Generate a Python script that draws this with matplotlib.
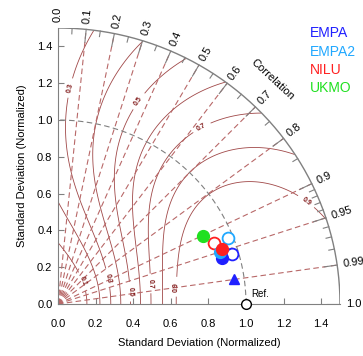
import matplotlib
matplotlib.use('Agg')
import matplotlib.pyplot as plt
import numpy as np

plt.rcParams['font.family'] = ['Liberation Sans', 'DejaVu Sans']

# normalized std and correlation
names = ['EMPA', 'EMPA2', 'NILU', 'UKMO']
colors = ['#2020ff', '#20a8ff', '#ff2020', '#20e020']
# filled circles
std_fill = [0.908, 0.908, 0.923, 0.857]
cor_fill = [0.962, 0.950, 0.947, 0.902]
# open circles (UKMO has none)
std_open = [0.966, 0.976, 0.897]
cor_open = [0.960, 0.929, 0.928]
# triangle (EMPA only)
std_tri = [0.947]
cor_tri = [0.990]

cor_ticks = [0.0, 0.1, 0.2, 0.3, 0.4, 0.5, 0.6, 0.7, 0.8, 0.9, 0.95, 0.99, 1.0]
cor_minor = [0.05, 0.15, 0.25, 0.35, 0.45, 0.55, 0.65, 0.75, 0.85,
             0.91, 0.92, 0.93, 0.94, 0.96, 0.97, 0.98]
cor_lines = [0.1, 0.2, 0.3, 0.4, 0.5, 0.6, 0.7, 0.8, 0.9, 0.95, 0.99]
skill_levels = [0.1, 0.2, 0.3, 0.4, 0.5, 0.6, 0.7, 0.8, 0.9]
r0 = 0.9   # attainable correlation used in the skill score
std_ticks = [0.0, 0.2, 0.4, 0.6, 0.8, 1.0, 1.2, 1.4]
rmax = 1.5

brown = '#a04848'
dashc = '#b86868'
grey = '#808080'

fig = plt.figure(figsize=(3.63, 3.56), dpi=100)
ax = fig.add_axes([58/363, 52/356, 282/363, 276/356])
ax.set_xlim(0, rmax)
ax.set_ylim(0, rmax)

# skill score contours
xg, yg = np.meshgrid(np.linspace(0.001, rmax, 500), np.linspace(0.0, rmax, 500))
sg = np.hypot(xg, yg)
rg = xg / sg
skill = 4*(1 + rg)**2 / ((sg + 1/sg)**2 * (1 + r0)**2)
skill = np.ma.masked_where(sg > rmax, skill)
cs = ax.contour(xg, yg, skill, levels=skill_levels, colors=brown, linewidths=0.6)
lab_pos = [(0.126, 0.121), (0.268, 0.14), (0.383, 0.067), (0.498, 0.112), (0.622, 0.094),
           (0.064, 1.174), (0.42, 1.109), (0.766, 0.957), (1.314, 0.549)]
lbls = ax.clabel(cs, fmt='%.1f', fontsize=5, colors='#801818', manual=lab_pos, inline=True)
for l in lbls:
    l.set_fontweight('bold')

# correlation rays
for c in cor_lines:
    th = np.arccos(c)
    ax.plot([0, rmax*np.cos(th)], [0, rmax*np.sin(th)], color=dashc, lw=0.8,
            dashes=(5, 3))

# std = 1 arc
t = np.linspace(0, np.pi/2, 200)
ax.plot(np.cos(t), np.sin(t), color=grey, lw=0.8, dashes=(5, 3))
# outer arc
ax.plot(rmax*np.cos(t), rmax*np.sin(t), color=grey, lw=1.0)

# ticks and labels on the outer arc
for c in cor_ticks:
    th = np.arccos(c)
    ax.plot([rmax*np.cos(th), (rmax-0.07)*np.cos(th)],
            [rmax*np.sin(th), (rmax-0.07)*np.sin(th)], color=grey, lw=0.8)
    ax.text(1.53*np.cos(th), 1.53*np.sin(th), '%g' % c if c not in (0.0, 1.0) else '%.1f' % c,
            rotation=np.degrees(th), rotation_mode='anchor', ha='left', va='center',
            fontsize=8, clip_on=False)
for c in cor_minor:
    th = np.arccos(c)
    ax.plot([rmax*np.cos(th), (rmax-0.03)*np.cos(th)],
            [rmax*np.sin(th), (rmax-0.03)*np.sin(th)], color=grey, lw=0.8)
th = np.radians(47)
ax.text(1.67*np.cos(th), 1.67*np.sin(th), 'Correlation', rotation=-43,
        ha='center', va='center', fontsize=8, clip_on=False)

# points
for i in range(len(std_fill)):
    th = np.arccos(cor_fill[i])
    ax.plot(std_fill[i]*np.cos(th), std_fill[i]*np.sin(th), 'o', color=colors[i],
            ms=8.5, clip_on=False, zorder=5)
for i in range(len(std_open)):
    th = np.arccos(cor_open[i])
    ax.plot(std_open[i]*np.cos(th), std_open[i]*np.sin(th), 'o', mfc='white',
            mec=colors[i], mew=1.3, ms=8.5, zorder=4)
for i in range(len(std_tri)):
    th = np.arccos(cor_tri[i])
    ax.plot(std_tri[i]*np.cos(th), std_tri[i]*np.sin(th), '^', color=colors[i],
            ms=7.5, zorder=5)
ax.plot([1.0], [0.0], 'o', mfc='white', mec='black', mew=1.0, ms=7, clip_on=False, zorder=6)
ax.text(1.03, 0.04, 'Ref.', fontsize=7)

# legend as coloured text
for i, n in enumerate(names):
    fig.text(310/363, 1 - (33 + 18.5*i)/356, n, color=colors[i], fontsize=10,
             ha='left', va='center')

ax.spines['top'].set_visible(False)
ax.spines['right'].set_visible(False)
for s in ['left', 'bottom']:
    ax.spines[s].set_color(grey)
ax.set_xticks(std_ticks)
ax.set_yticks(std_ticks)
ax.set_xticklabels(['%.1f' % v for v in std_ticks])
ax.set_yticklabels(['%.1f' % v for v in std_ticks])
ax.tick_params(direction='in', length=4, color=grey, labelsize=8)
ax.tick_params(axis='x', pad=11)
ax.tick_params(axis='y', pad=4)
ax.set_xlabel('Standard Deviation (Normalized)', fontsize=8, labelpad=6)
ax.set_ylabel('Standard Deviation (Normalized)', fontsize=8, labelpad=7)

fig.savefig('out.png', dpi=100)
